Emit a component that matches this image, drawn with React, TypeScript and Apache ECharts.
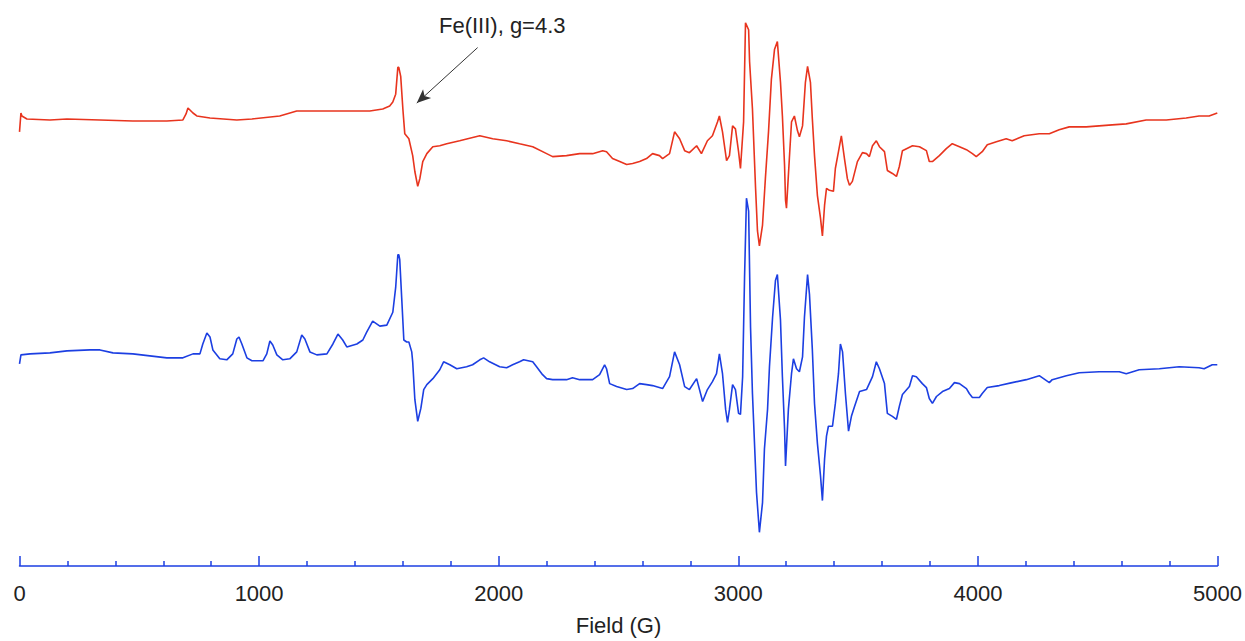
import React, { useEffect, useRef } from "react";
import * as echarts from "echarts";

// Field (G) and signal amplitude (arbitrary units, relative to each trace's baseline)
const redField = [0,6,10,31,127,198,336,473,615,682,695,703,724,740,795,907,970,1086,1157,1170,1337,1462,1516,1545,1558,1570,1579,1583,1591,1600,1608,1625,1641,1650,1662,1671,1683,1700,1725,1754,1783,1837,1921,1975,2033,2087,2142,2200,2225,2283,2338,2392,2434,2450,2475,2505,2534,2559,2588,2617,2642,2671,2684,2713,2734,2755,2776,2796,2826,2846,2871,2892,2913,2921,2934,2951,2963,2976,2988,3001,3009,3022,3030,3043,3047,3059,3072,3080,3088,3101,3113,3126,3138,3151,3163,3176,3184,3193,3197,3201,3213,3222,3234,3247,3255,3268,3280,3289,3301,3309,3318,3330,3343,3351,3360,3368,3380,3397,3405,3418,3430,3443,3455,3464,3476,3497,3518,3535,3547,3560,3576,3589,3610,3622,3643,3660,3672,3685,3727,3756,3785,3797,3810,3839,3868,3893,3923,3952,3977,3993,4018,4039,4077,4118,4143,4193,4256,4298,4339,4381,4452,4506,4560,4619,4702,4786,4869,4923,4965,4999];
const redSignal = [-12,7,4,1,0,1,0,-1,-1,0,6,12,7,4,2,0,1,4,9,9,9,9,11,14,18,26,53,53,44,11,-14,-19,-36,-52,-67,-59,-42,-34,-27,-26,-24,-21,-16,-19,-21,-24,-27,-34,-37,-36,-34,-34,-31,-32,-39,-42,-45,-44,-42,-39,-34,-36,-39,-34,-12,-19,-31,-33,-26,-34,-21,-16,-2,4,-12,-41,-36,-6,-9,-32,-49,-2,98,91,59,11,-69,-112,-127,-106,-59,-12,41,71,79,38,4,-46,-81,-89,-39,-2,4,-11,-17,-6,38,54,38,1,-36,-76,-99,-117,-86,-69,-71,-72,-49,-32,-16,-39,-59,-66,-62,-42,-33,-34,-37,-26,-21,-27,-32,-51,-54,-57,-47,-31,-26,-27,-31,-42,-42,-36,-29,-24,-27,-30,-34,-37,-32,-25,-22,-19,-21,-16,-14,-14,-10,-7,-7,-6,-5,-4,0,0,2,4,4,7];

const blueField = [0,6,44,127,198,294,336,390,473,544,615,682,724,753,765,782,795,807,836,865,890,907,916,928,949,970,1016,1032,1045,1057,1074,1099,1128,1157,1178,1191,1212,1241,1283,1308,1329,1349,1366,1408,1433,1449,1474,1504,1533,1558,1570,1579,1583,1587,1595,1604,1616,1625,1637,1641,1650,1662,1675,1687,1700,1725,1754,1770,1796,1825,1866,1891,1921,1937,1962,2004,2033,2058,2087,2104,2142,2158,2183,2200,2225,2283,2308,2338,2392,2421,2442,2450,2463,2492,2534,2559,2588,2617,2642,2684,2713,2734,2755,2776,2796,2826,2851,2871,2892,2909,2921,2934,2947,2955,2963,2976,2988,3001,3009,3018,3026,3034,3043,3051,3059,3068,3076,3088,3101,3109,3122,3130,3143,3155,3163,3176,3184,3193,3197,3209,3222,3230,3243,3255,3268,3276,3289,3297,3309,3318,3330,3343,3351,3360,3368,3376,3393,3405,3418,3426,3435,3447,3460,3472,3485,3506,3535,3560,3576,3589,3610,3622,3643,3660,3672,3685,3714,3727,3743,3768,3785,3797,3810,3827,3852,3881,3902,3923,3952,3964,3977,4006,4018,4039,4089,4143,4202,4256,4268,4298,4310,4369,4423,4506,4590,4619,4673,4757,4840,4923,4944,4978,4999];
const blueSignal = [-11,-2,-1,0,2,3,3,0,-1,-3,-5,-5,-1,-1,9,20,16,3,-6,-7,-1,14,16,9,-5,-8,-8,-1,12,8,-2,-7,-6,1,18,14,1,-2,-1,9,19,13,6,9,13,21,32,27,28,41,66,99,99,94,56,13,11,11,1,-9,-47,-69,-56,-37,-32,-26,-17,-9,-12,-16,-14,-12,-7,-5,-9,-14,-15,-12,-9,-7,-9,-14,-22,-26,-27,-27,-25,-27,-27,-22,-12,-16,-31,-34,-37,-36,-31,-32,-33,-36,-24,1,-12,-34,-37,-26,-49,-37,-29,-21,-1,-21,-57,-70,-57,-32,-37,-61,-62,-24,76,156,143,26,-41,-94,-141,-181,-151,-97,-57,-14,36,73,79,33,-24,-77,-114,-57,-21,-6,-16,-19,-4,36,79,59,3,-51,-91,-124,-149,-107,-84,-74,-74,-51,-21,9,1,-41,-79,-64,-54,-39,-37,-24,-9,-16,-31,-61,-64,-67,-54,-42,-34,-23,-24,-31,-35,-46,-51,-44,-39,-36,-30,-31,-36,-41,-45,-45,-41,-35,-33,-30,-27,-23,-25,-30,-27,-23,-20,-19,-19,-21,-17,-16,-14,-15,-16,-12,-12];

const xTicks = [0, 1000, 2000, 3000, 4000, 5000];
const annotationText = "Fe(III), g=4.3";
// arrow from label to the g=4.3 feature, in (Field, absolute intensity) units
const arrowFrom = [1912, 523];
const arrowTo = [1658, 467];

const RED_OFFSET = 450;
const BLUE_OFFSET = 215;

const RED = "#e8341e";
const BLUE = "#1c3fe2";
const FONT = "Liberation Sans, Arial, sans-serif";

export default function App() {
  const ref = useRef<HTMLDivElement>(null);
  useEffect(() => {
    document.body.style.margin = "0";
    if (!ref.current) return;
    const chart = echarts.init(ref.current, null, { renderer: "svg" });
    const redData = redField.map((f, i) => [f, redSignal[i] + RED_OFFSET]);
    const blueData = blueField.map((f, i) => [f, blueSignal[i] + BLUE_OFFSET]);
    chart.setOption({
      animation: false,
      grid: { left: 19.5, right: 27, top: 0, bottom: 70 },
      xAxis: {
        type: "value",
        min: xTicks[0],
        max: xTicks[xTicks.length - 1],
        interval: 1000,
        name: "Field (G)",
        nameLocation: "middle",
        nameGap: 48,
        nameTextStyle: { fontSize: 22, color: "#222", fontFamily: FONT },
        axisLine: { show: true, lineStyle: { color: BLUE, width: 1.5 } },
        axisTick: { show: true, inside: true, length: 10, lineStyle: { color: BLUE, width: 1.5 } },
        minorTick: { show: true, splitNumber: 5, length: 5, lineStyle: { color: BLUE, width: 1.5 } },
        splitLine: { show: false },
        axisLabel: {
          fontSize: 22,
          color: "#222",
          margin: 16,
          fontFamily: FONT,
          formatter: (v: number) => String(v),
        },
      },
      yAxis: { type: "value", min: 0, max: 571, show: false },
      graphic: [
        {
          type: "text",
          left: 439,
          top: 14,
          style: { text: annotationText, fontSize: 22, fill: "#222", fontFamily: FONT },
        },
      ],
      series: [
        {
          type: "line",
          data: redData,
          showSymbol: false,
          lineStyle: { color: RED, width: 1.6 },
          itemStyle: { color: RED },
          markLine: {
            silent: true,
            symbol: ["none", "arrow"],
            symbolSize: [9, 14],
            label: { show: false },
            lineStyle: { color: "#333", width: 1, type: "solid" },
            data: [[{ coord: arrowFrom }, { coord: arrowTo }]],
          },
        },
        {
          type: "line",
          data: blueData,
          showSymbol: false,
          lineStyle: { color: BLUE, width: 1.6 },
          itemStyle: { color: BLUE },
        },
      ],
    });
    return () => chart.dispose();
  }, []);
  return <div ref={ref} style={{ width: 1245, height: 641 }} />;
}
